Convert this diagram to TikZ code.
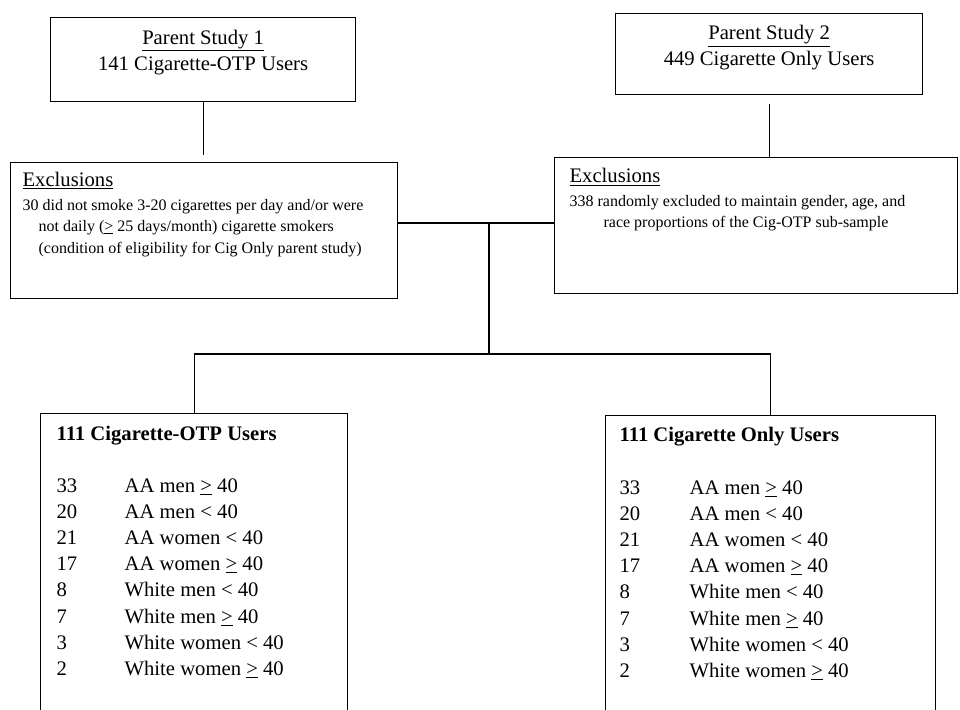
\documentclass[tikz,border=0pt]{standalone}
\usepackage{fontspec}
\setmainfont{Liberation Serif}
\begin{document}
\begin{tikzpicture}[x=0.75pt,y=-0.75pt,line width=0.9pt,
    box/.style={draw,rectangle,anchor=north west,inner sep=0pt},
    big/.style={font=\fontsize{15.5}{19.5}\selectfont,inner sep=0pt},
    small/.style={font=\fontsize{12}{16}\selectfont,inner sep=0pt,align=left}]
  \useasboundingbox (0,0) rectangle (960,710);
  \clip (0,0) rectangle (960,710);
  % parent studies
  \node[box,minimum width=228.75pt,minimum height=63pt] (p1) at (50,17) {};
  \node[box,minimum width=230.25pt,minimum height=60.75pt] (p2) at (615,13) {};
  \node[big,align=center] (p1t) at ([shift={(0,35.5)}]p1.north) {\underline{Parent Study 1}\\141 Cigarette-OTP Users};
  \node[big,align=center] (p2t) at ([shift={(0,35)}]p2.north) {\underline{Parent Study 2}\\449 Cigarette Only Users};
  % exclusions
  \node[box,minimum width=290.25pt,minimum height=102pt] (ex1) at (10,162) {};
  \node[box,minimum width=302.25pt,minimum height=102pt] (ex2) at (554,157) {};
  \node[big,anchor=west] (ex1h) at ([shift={(12,18.5)}]ex1.north west) {\underline{Exclusions}};
  \node[small,anchor=west] (ex1b) at ([shift={(12,66)}]ex1.north west)
    {30 did not smoke 3-20 cigarettes per day and/or were\\
     \hspace*{12pt}not daily (\underline{>} 25 days/month) cigarette smokers\\
     \hspace*{12pt}(condition of eligibility for Cig Only parent study)};
  \node[big,anchor=west] (ex2h) at ([shift={(15,20)}]ex2.north west) {\underline{Exclusions}};
  \node[small,anchor=west] (ex2b) at ([shift={(15,56)}]ex2.north west)
    {338 randomly excluded to maintain gender, age, and\\
     \hspace*{25.5pt}race proportions of the Cig-OTP sub-sample};
  % final samples
  \node[box,minimum width=230.25pt,minimum height=240pt] (cot) at (40,413) {};
  \node[box,minimum width=247.5pt,minimum height=240pt] (con) at (605,415) {};
  \node[big,anchor=base west] (cott) at ([shift={(16,27)}]cot.north west) {\bfseries 111 Cigarette-OTP Users};
  \node[big,anchor=base west] (cont) at ([shift={(14,26)}]con.north west) {\bfseries 111 Cigarette Only Users};
  \foreach \bx/\dx in {cot/16,con/14} {
    \foreach \n/\lab [count=\k] in {33/AA men \underline{>} 40, 20/AA men < 40, 21/AA women < 40,
        17/AA women \underline{>} 40, 8/White men < 40, 7/White men \underline{>} 40,
        3/White women < 40, 2/White women \underline{>} 40} {
      \node[big,anchor=base west] (\bx n\k) at ([shift={(\dx,{79+(\k-1)*26.2})}]\bx.north west) {\n};
      \node[big,anchor=base west] (\bx l\k) at ([shift={(84,{79+(\k-1)*26.2})}]\bx.north west) {\lab};
    }
  }
  % connectors
  \coordinate (split) at (489,223);
  \coordinate (bar) at (489,354);
  \draw[shorten >=5.25pt] (p1.south) -- (p1.south |- ex1.north);
  \draw[shorten <=6.75pt] (p2.south) -- (p2.south |- ex2.north);
  \draw (ex1.east |- split) -- (ex2.west |- split);
  \draw (split) -- (bar);
  \draw (cot.north) |- (bar) -| (con.north);
\end{tikzpicture}
\end{document}
